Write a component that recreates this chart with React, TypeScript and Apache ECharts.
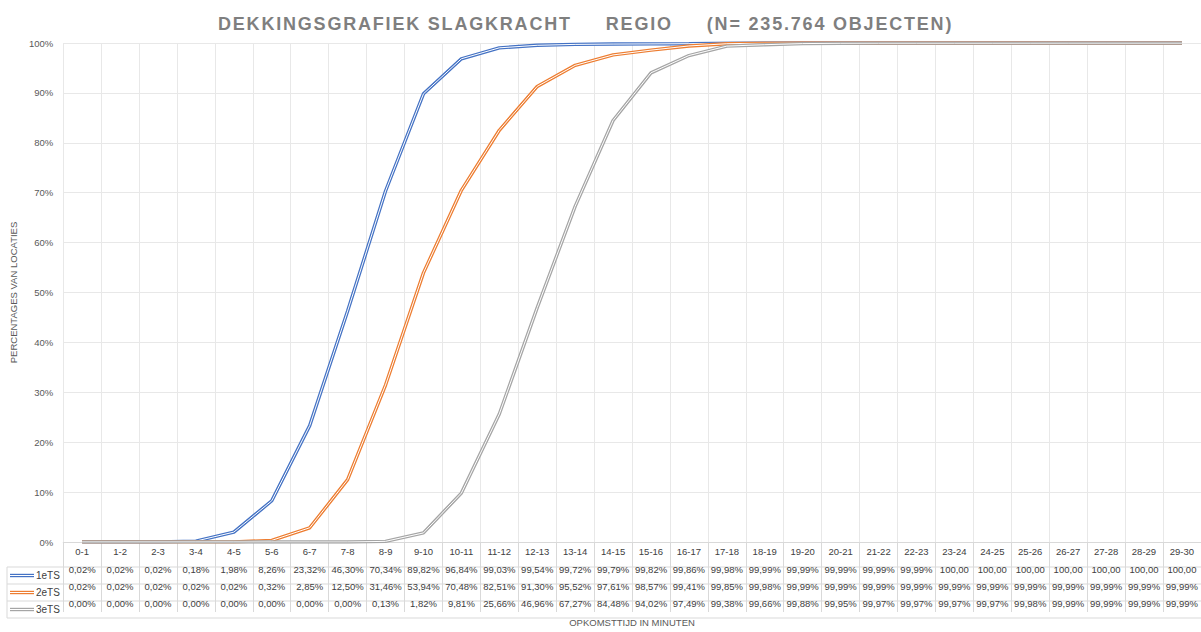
import React, { useEffect, useRef } from "react";
import * as echarts from "echarts";

const categories = [
  "0-1", "1-2", "2-3", "3-4", "4-5", "5-6", "6-7", "7-8", "8-9", "9-10",
  "10-11", "11-12", "12-13", "13-14", "14-15", "15-16", "16-17", "17-18", "18-19", "19-20",
  "20-21", "21-22", "22-23", "23-24", "24-25", "25-26", "26-27", "27-28", "28-29", "29-30",
];

const seriesNames = ["1eTS", "2eTS", "3eTS"];
const seriesColors = ["#4472C4", "#ED7D31", "#A5A5A5"];

const ts1 = [
  0.02, 0.02, 0.02, 0.18, 1.98, 8.26, 23.32, 46.3, 70.34, 89.82,
  96.84, 99.03, 99.54, 99.72, 99.79, 99.82, 99.86, 99.98, 99.99, 99.99,
  99.99, 99.99, 99.99, 100, 100, 100, 100, 100, 100, 100,
];
const ts2 = [
  0.02, 0.02, 0.02, 0.02, 0.02, 0.32, 2.85, 12.5, 31.46, 53.94,
  70.48, 82.51, 91.3, 95.52, 97.61, 98.57, 99.41, 99.85, 99.98, 99.99,
  99.99, 99.99, 99.99, 99.99, 99.99, 99.99, 99.99, 99.99, 99.99, 99.99,
];
const ts3 = [
  0, 0, 0, 0, 0, 0, 0, 0, 0.13, 1.82,
  9.81, 25.66, 46.96, 67.27, 84.48, 94.02, 97.49, 99.38, 99.66, 99.88,
  99.95, 99.97, 99.97, 99.97, 99.97, 99.98, 99.99, 99.99, 99.99, 99.99,
];
const allSeries = [ts1, ts2, ts3];

const yTicks = { min: 0, max: 100, interval: 10 };

const TITLE = "DEKKINGSGRAFIEK SLAGKRACHT     REGIO     (N= 235.764 OBJECTEN)";

const FONT = "'Liberation Sans', Arial, sans-serif";

function fmt(v: number): string {
  const s = v.toFixed(2).replace(".", ",");
  return v >= 100 ? s : s + "%";
}

export default function App() {
  const ref = useRef<HTMLDivElement>(null);

  useEffect(() => {
    if (!ref.current) return;
    const chart = echarts.init(ref.current, undefined, { renderer: "svg" });

    const W = 1201;
    const gridLeft = 62;
    const gridTop = 43;
    const axisY = 548;
    const tableLeft = 7;
    const rowLines = [567, 584, 601, 618];
    const borderColor = "#d9d9d9";

    const lineSeries: any[] = [];
    allSeries.forEach((data, i) => {
      lineSeries.push({
        name: seriesNames[i],
        type: "line",
        data,
        symbol: "none",
        lineStyle: { color: seriesColors[i], width: 3.4 },
        z: 2,
      });
      lineSeries.push({
        name: seriesNames[i] + " ",
        type: "line",
        data,
        symbol: "none",
        lineStyle: { color: "#ffffff", width: 1 },
        z: 2,
      });
    });

    const graphic: any[] = [];
    rowLines.forEach((y) => {
      graphic.push({
        type: "line",
        shape: { x1: tableLeft, y1: y, x2: W, y2: y },
        style: { stroke: borderColor, lineWidth: 1 },
        silent: true,
      });
    });
    graphic.push({
      type: "line",
      shape: { x1: tableLeft, y1: rowLines[0], x2: tableLeft, y2: rowLines[3] },
      style: { stroke: borderColor, lineWidth: 1 },
      silent: true,
    });
    seriesNames.forEach((name, i) => {
      const cy = (rowLines[i] + rowLines[i + 1]) / 2;
      graphic.push({
        type: "line",
        shape: { x1: 10, y1: cy, x2: 34, y2: cy },
        style: { stroke: seriesColors[i], lineWidth: 3.4 },
        silent: true,
      });
      graphic.push({
        type: "line",
        shape: { x1: 10, y1: cy, x2: 34, y2: cy },
        style: { stroke: "#ffffff", lineWidth: 1 },
        silent: true,
      });
      graphic.push({
        type: "text",
        x: 36,
        y: cy,
        style: {
          text: name,
          fill: "#404040",
          font: `10px ${FONT}`,
          textVerticalAlign: "middle",
          textAlign: "left",
        },
        silent: true,
      });
    });

    chart.setOption({
      animation: false,
      backgroundColor: "#ffffff",
      title: {
        text: TITLE,
        left: 213,
        top: 10,
        textStyle: {
          color: "#7f7f7f",
          fontSize: 18,
          fontWeight: "bold",
          fontFamily: FONT,
        },
      },
      grid: {
        left: gridLeft,
        right: 0,
        top: gridTop,
        bottom: 632 - axisY,
        containLabel: false,
      },
      xAxis: {
        type: "category",
        data: categories,
        boundaryGap: true,
        name: "OPKOMSTTIJD IN MINUTEN",
        nameLocation: "middle",
        nameGap: 75,
        nameTextStyle: { color: "#595959", fontSize: 9.5, fontFamily: FONT },
        axisLine: { show: true, lineStyle: { color: borderColor } },
        axisTick: {
          show: true,
          interval: 0,
          length: rowLines[3] - axisY,
          lineStyle: { color: borderColor },
        },
        splitLine: { show: true, interval: 0, lineStyle: { color: "#e8e8e8" } },
        axisLabel: {
          interval: 0,
          margin: 0,
          formatter: (value: string, idx: number) =>
            [`{h|${value}}`, ...allSeries.map((s) => `{v|${fmt(s[idx])}}`)].join("\n"),
          rich: {
            h: { lineHeight: 19, fontSize: 9.5, color: "#404040", fontFamily: FONT },
            v: { lineHeight: 17, fontSize: 9.5, color: "#404040", fontFamily: FONT },
          },
        },
      },
      yAxis: {
        type: "value",
        min: yTicks.min,
        max: yTicks.max,
        interval: yTicks.interval,
        name: "PERCENTAGES VAN LOCATIES",
        nameLocation: "middle",
        nameGap: 42,
        nameTextStyle: { color: "#595959", fontSize: 9.5, fontFamily: FONT },
        axisLine: { show: false },
        axisTick: { show: false },
        axisLabel: {
          formatter: "{value}%",
          color: "#595959",
          fontSize: 9.5,
          fontFamily: FONT,
          margin: 10,
        },
        splitLine: { show: true, lineStyle: { color: "#e8e8e8" } },
      },
      series: lineSeries,
      graphic,
    });

    return () => chart.dispose();
  }, []);

  return (
    <>
      <style>{`.chart-wrap text[style*="bold"] { letter-spacing: 1.8px; }`}</style>
      <div
        ref={ref}
        className="chart-wrap"
        style={{ position: "absolute", left: 0, top: 0, width: 1201, height: 632 }}
      />
    </>
  );
}
